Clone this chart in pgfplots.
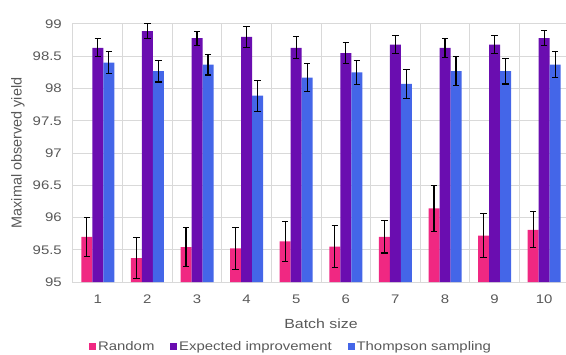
\documentclass[border=0pt]{standalone}
\usepackage{pgfplots}
\pgfplotsset{compat=1.18}
\usepackage{fontspec}
\setmainfont{Liberation Sans}[FakeStretch=1.2]
\newfontfamily\plainfont{Liberation Sans}
\definecolor{cRand}{RGB}{240,40,130}
\definecolor{cEI}{RGB}{106,13,176}
\definecolor{cTS}{RGB}{68,102,232}
\definecolor{txt}{RGB}{89,89,89}
\definecolor{grd}{RGB}{217,217,217}
\begin{document}
\begin{tikzpicture}
\begin{axis}[
  scale only axis,
  width=496bp, height=258bp,
  xmin=0.5, xmax=10.5, ymin=95, ymax=99,
  ybar=0pt, bar width=11bp,
  xtick={1,2,...,10},
  minor xtick={0.5,1.5,...,10.5},
  ytick={95,95.5,...,99},
  major tick length=0pt, minor tick length=0pt,
  ymajorgrids, xminorgrids,
  grid style={draw=grd, line width=1bp},
  minor grid style={draw=grd, line width=1bp},
  axis line style={draw=grd, line width=1bp},
  tick style={draw=none},
  /pgf/number format/assume math mode=true,
  yticklabel style={/pgf/number format/fixed, /pgf/number format/precision=1, inner sep=0pt, anchor=east, xshift=-11bp},
  xticklabel style={inner sep=0pt, anchor=north, yshift=-13bp},
  tick label style={font=\fontsize{12.5}{15}\selectfont, text=txt},
  xlabel={Batch size},
  ylabel={Maximal observed yield},
  xlabel style={font=\fontsize{13.3}{16}\selectfont, text=txt, at={(axis description cs:0.5,-0.161)}, anchor=center},
  ylabel style={font=\plainfont\fontsize{14.5}{17}\selectfont, text=txt, at={(axis description cs:-0.111,0.5)}, anchor=center},
  legend columns=3,
  legend style={at={(axis description cs:0.44,-0.25)}, anchor=center, draw=none, fill=none,
    font=\fontsize{12.5}{15}\selectfont, text=txt, inner sep=0pt,
    /tikz/every even column/.append style={column sep=14bp}},
  legend image code/.code={\fill[#1] (0bp,-3.3bp) rectangle (6.6bp,3.3bp);},
  error bars/y dir=both, error bars/y explicit,
  error bars/error bar style={black, line width=1.1bp},
  error bars/error mark options={black, line width=1.1bp, rotate=90, mark size=3.2bp},
]
\addplot[fill=cRand, draw=none] coordinates {
(1,95.70) +- (0,0.30)
(2,95.37) +- (0,0.32)
(3,95.54) +- (0,0.30)
(4,95.52) +- (0,0.33)
(5,95.63) +- (0,0.31)
(6,95.55) +- (0,0.33)
(7,95.70) +- (0,0.25)
(8,96.14) +- (0,0.36)
(9,95.72) +- (0,0.34)
(10,95.81) +- (0,0.28)
};
\addplot[fill=cEI, draw=none] coordinates {
(1,98.63) +- (0,0.14)
(2,98.89) +- (0,0.12)
(3,98.78) +- (0,0.11)
(4,98.80) +- (0,0.16)
(5,98.63) +- (0,0.17)
(6,98.55) +- (0,0.16)
(7,98.68) +- (0,0.14)
(8,98.63) +- (0,0.15)
(9,98.68) +- (0,0.14)
(10,98.78) +- (0,0.12)
};
\addplot[fill=cTS, draw=none] coordinates {
(1,98.40) +- (0,0.17)
(2,98.27) +- (0,0.17)
(3,98.37) +- (0,0.16)
(4,97.89) +- (0,0.24)
(5,98.17) +- (0,0.22)
(6,98.25) +- (0,0.19)
(7,98.07) +- (0,0.22)
(8,98.27) +- (0,0.23)
(9,98.27) +- (0,0.20)
(10,98.37) +- (0,0.20)
};
\legend{Random,Expected improvement,Thompson sampling}
\end{axis}
\pgfresetboundingbox
\path[use as bounding box] (current axis.south west) ++(-73bp,-73bp) rectangle ++(566bp,355bp);
\end{tikzpicture}
\end{document}
